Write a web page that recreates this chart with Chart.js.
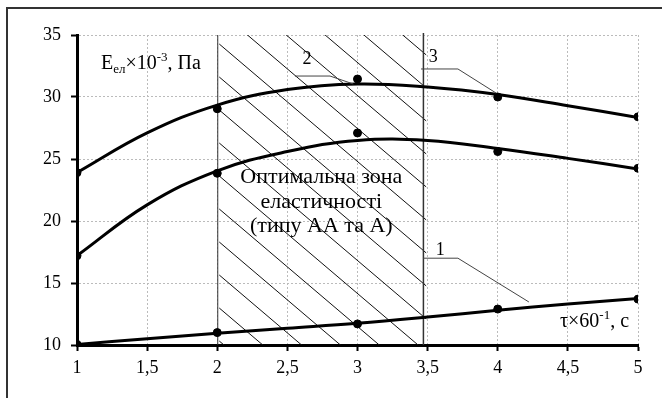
<!DOCTYPE html>
<html>
<head>
<meta charset="utf-8">
<script src="https://cdn.jsdelivr.net/npm/chart.js@4.4.0/dist/chart.umd.min.js"></script>
<style>
  html, body { margin: 0; padding: 0; background: #fff; }
  #wrap { width: 662px; height: 398px; }
</style>
</head>
<body>
<div id="wrap"><canvas id="chart" width="662" height="398"></canvas></div>
<script>
// measured points (tau x 60^-1, s  /  E x 10^-3, Pa)
const tau = [1, 2, 3, 4, 5];
const curve1Points = [10.05, 11.0, 11.7, 12.9, 13.7];
const curve2Points = [17.2, 23.85, 27.1, 25.6, 24.25];
const curve3Points = [23.9, 29.05, 31.45, 30.0, 28.4];

// trend lines
const tauTrend = [1, 1.5, 2, 2.5, 3, 3.5, 4, 4.5, 5];
const curve1Trend = [10.05, 10.5, 10.95, 11.35, 11.75, 12.25, 12.8, 13.3, 13.75];
const curve2Trend = [17.2, 21.3, 24.05, 25.6, 26.5, 26.5, 25.85, 25.05, 24.2];
const curve3Trend = [23.9, 27.1, 29.35, 30.6, 31.05, 30.8, 30.2, 29.3, 28.35];

const xTickLabels = ['1', '1,5', '2', '2,5', '3', '3,5', '4', '4,5', '5'];
const yTickLabels = ['10', '15', '20', '25', '30', '35'];

// optimal elasticity zone (x range)
const zone = [2, 3.47];
const zoneText = ['Оптимальна зона', 'еластичності', '(типу АА та А)'];

const SERIF = '"Liberation Serif", "Times New Roman", serif';

function toXY(xs, ys) {
    return xs.map((x, i) => ({ x: x, y: ys[i] }));
}

// curve labels with leader lines, in data coords
const leaders = [
    { text: '1', at: [3.59, 17.6], path: [[3.467, 17.0], [3.716, 17.0], [4.222, 13.47]] },
    { text: '2', at: [2.64, 33.05], path: [[2.554, 31.69], [2.804, 31.69], [2.97, 31.05]] },
    { text: '3', at: [3.54, 33.2], path: [[3.453, 32.26], [3.716, 32.26], [3.988, 30.32]] }
];

function drawRich(ctx, x, y, parts, size) {
    let cx = x;
    parts.forEach(function(p) {
        const kind = p[1];
        const s = kind ? Math.round(size * 0.65) : size;
        const dy = kind === 'sub' ? size * 0.2 : (kind === 'sup' ? -size * 0.4 : 0);
        ctx.font = s + 'px ' + SERIF;
        ctx.fillText(p[0], cx, y + dy);
        cx += ctx.measureText(p[0]).width;
    });
}

const framePlugin = {
    id: 'frame',
    beforeDraw(chart) {
        const ctx = chart.ctx;
        ctx.save();
        ctx.fillStyle = '#fff';
        ctx.fillRect(0, 0, chart.width, chart.height);
        ctx.strokeStyle = '#333';
        ctx.lineWidth = 2;
        ctx.beginPath();
        ctx.moveTo(7, chart.height);
        ctx.lineTo(7, 8);
        ctx.lineTo(chart.width, 8);
        ctx.stroke();
        ctx.restore();
    }
};

const zonePlugin = {
    id: 'zone',
    beforeDatasetsDraw(chart) {
        const ctx = chart.ctx;
        const xs = chart.scales.x, ys = chart.scales.y;
        const left = xs.getPixelForValue(zone[0]);
        const right = xs.getPixelForValue(zone[1]);
        const top = ys.getPixelForValue(35);
        const bottom = ys.getPixelForValue(10);
        const w = right - left;

        // diagonal hatching
        ctx.save();
        ctx.beginPath();
        ctx.rect(left, top, w + 3, bottom - top);
        ctx.clip();
        ctx.strokeStyle = '#111';
        ctx.lineWidth = 1;
        const slope = 0.85, spacing = 33;
        for (let k = -14; k <= 1; k++) {
            const y0 = 308 + k * spacing;
            ctx.beginPath();
            ctx.moveTo(left + 2, y0);
            ctx.lineTo(right + 3, y0 + slope * (w + 1));
            ctx.stroke();
        }
        ctx.restore();

        // zone borders
        ctx.save();
        ctx.strokeStyle = '#333';
        ctx.lineWidth = 1;
        ctx.beginPath();
        ctx.moveTo(left + 0.5, top);
        ctx.lineTo(left + 0.5, bottom);
        ctx.stroke();
        ctx.lineWidth = 1.5;
        ctx.beginPath();
        ctx.moveTo(right, top - 2);
        ctx.lineTo(right, bottom);
        ctx.stroke();
        ctx.restore();
    }
};

const labelPlugin = {
    id: 'labels',
    afterDatasetsDraw(chart) {
        const ctx = chart.ctx;
        const xs = chart.scales.x, ys = chart.scales.y;
        ctx.save();
        ctx.fillStyle = '#000';
        ctx.textBaseline = 'alphabetic';
        ctx.textAlign = 'left';

        // axis captions
        drawRich(ctx, 101, 69, [['Е'], ['ел', 'sub'], ['×10'], ['-3', 'sup'], [', Па']], 20);
        drawRich(ctx, 560, 327, [['τ×60'], ['-1', 'sup'], [', с']], 20);

        // zone caption
        ctx.textAlign = 'center';
        ctx.font = '22px ' + SERIF;
        const cx = (xs.getPixelForValue(zone[0]) + xs.getPixelForValue(zone[1])) / 2 + 1;
        zoneText.forEach(function(line, i) {
            ctx.fillText(line, cx, 183 + i * 24.5);
        });

        // leader lines
        ctx.font = '18px ' + SERIF;
        leaders.forEach(function(l) {
            ctx.strokeStyle = '#444';
            ctx.lineWidth = 1;
            ctx.beginPath();
            l.path.forEach(function(p, i) {
                const px = xs.getPixelForValue(p[0]), py = ys.getPixelForValue(p[1]);
                if (i === 0) ctx.moveTo(px, py); else ctx.lineTo(px, py);
            });
            ctx.stroke();
            ctx.textBaseline = 'middle';
            ctx.fillText(l.text, xs.getPixelForValue(l.at[0]), ys.getPixelForValue(l.at[1]));
        });
        ctx.restore();
    }
};

function trendSet(ys) {
    return {
        type: 'line',
        data: toXY(tauTrend, ys),
        borderColor: '#000',
        borderWidth: 3,
        pointRadius: 0,
        tension: 0.4,
        fill: false
    };
}

function pointSet(ys) {
    return {
        type: 'scatter',
        data: toXY(tau, ys),
        backgroundColor: '#000',
        borderColor: '#000',
        pointRadius: 4,
        showLine: false
    };
}

function buildChart() {
    new Chart(document.getElementById('chart'), {
        data: {
            datasets: [
                trendSet(curve1Trend), trendSet(curve2Trend), trendSet(curve3Trend),
                pointSet(curve1Points), pointSet(curve2Points), pointSet(curve3Points)
            ]
        },
        options: {
            responsive: false,
            animation: false,
            devicePixelRatio: 1,
            layout: { padding: { left: 0, top: 35, right: 24, bottom: 0 } },
            plugins: { legend: { display: false }, tooltip: { enabled: false } },
            scales: {
                x: {
                    type: 'linear',
                    min: 1, max: 5,
                    afterFit: function(scale) { scale.height = 53; },
                    ticks: {
                        stepSize: 0.5,
                        autoSkip: false,
                        maxRotation: 0,
                        padding: 6,
                        color: '#000',
                        font: { family: SERIF, size: 18 },
                        callback: function(v, i) { return xTickLabels[i]; }
                    },
                    grid: { color: '#bbb', tickColor: '#000', tickLength: 6, tickWidth: 2 },
                    border: { display: true, color: '#000', width: 3, dash: [2, 2] }
                },
                y: {
                    type: 'linear',
                    min: 10, max: 35,
                    afterFit: function(scale) { scale.width = 77; },
                    ticks: {
                        stepSize: 5,
                        padding: 10,
                        color: '#000',
                        font: { family: SERIF, size: 18 },
                        callback: function(v, i) { return yTickLabels[i]; }
                    },
                    grid: { color: '#bbb', tickColor: '#000', tickLength: 6, tickWidth: 2 },
                    border: { display: true, color: '#000', width: 3, dash: [2, 2] }
                }
            }
        },
        plugins: [framePlugin, zonePlugin, labelPlugin]
    });
}

document.fonts.load('18px "Liberation Serif"', 'Оптимальна 1,5').then(buildChart, buildChart);
</script>
</body>
</html>
